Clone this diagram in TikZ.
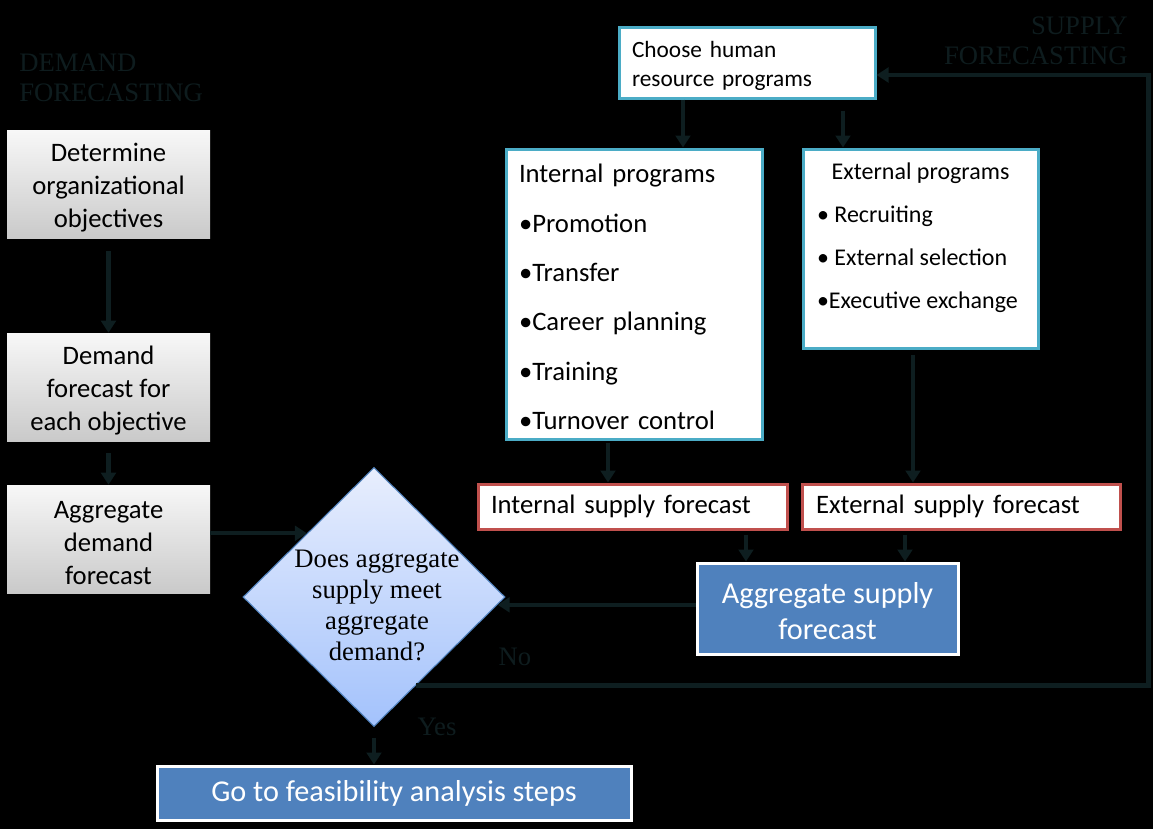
\documentclass[tikz,border=0pt]{standalone}
\usepackage{fontspec}
\setmainfont{Liberation Serif}
\newfontfamily\calfont{Carlito}
\usetikzlibrary{arrows.meta,shapes.geometric,calc}
\definecolor{arrc}{RGB}{14,30,32}
\definecolor{lblc}{RGB}{14,28,30}
\definecolor{tealb}{RGB}{75,172,198}
\definecolor{redb}{RGB}{192,80,77}
\definecolor{blueb}{RGB}{79,129,189}
\definecolor{dtop}{RGB}{232,238,253}
\definecolor{dbot}{RGB}{163,194,252}
\newcommand\tallstrut[1]{\rule{0pt}{#1}}
\begin{document}
\begin{tikzpicture}[x=0.75pt,y=-0.75pt,
  arr/.style={draw=arrc, line width=3.2pt, -{Triangle[width=11pt,length=9pt]}},
  graybox/.style={top color=gray!6, bottom color=gray!42, minimum width=152.25pt, minimum height=81pt, align=center, inner sep=0pt, font=\calfont\fontsize{20}{24.75}\selectfont},
  whbox/.style={draw=tealb, fill=white, line width=2.25pt, inner ysep=0pt},
  redbox/.style={draw=redb, fill=white, line width=2.25pt, inner ysep=0pt, font=\calfont\fontsize{20}{24}\selectfont},
  bluebox/.style={draw=white, fill=blueb, line width=2.25pt, text=white, inner sep=0pt, align=center},
  lbl/.style={text=lblc, font=\fontsize{20}{22.5}\selectfont, inner sep=0pt}
]
\fill[black] (0,0) rectangle (1153,829);
\useasboundingbox (0,0) rectangle (1153,829);

% demand side
\node[graybox] (d1) at (108.5,184.5) {\tallstrut{18.5pt}Determine\\organizational\\objectives};
\node[graybox] (d2) at (108.5,387) {\tallstrut{18.5pt}Demand\\forecast for\\each objective};
\node[graybox] (d3) at (108.5,539) {\tallstrut{18.5pt}Aggregate\\demand\\forecast};

% decision
\node[diamond, draw=blueb, line width=0.8pt, top color=dtop, bottom color=dbot, minimum width=196.5pt, minimum height=194.25pt, inner sep=0pt] (dec) at (374,597) {};
\node[font=\fontsize{20}{23.25}\selectfont, align=center, text=black, inner sep=0pt] (dtext) at (377,605) {Does aggregate\\supply meet\\aggregate\\demand?};

% labels
\node[lbl, align=left, anchor=west] (dl) at (19,78) {DEMAND\\FORECASTING};
\node[lbl, align=right, anchor=east] (sl) at (1128,41) {SUPPLY\\FORECASTING};
\node[lbl] (no) at (515,657) {No};
\node[lbl] (yes) at (437,727) {Yes};

% supply side
\node[whbox, text width=172.5pt, inner xsep=9.75pt, minimum height=53.25pt, align=left, font=\calfont\fontsize{17.5}{21.75}\selectfont] (choose) at (747,62.5) {\tallstrut{16.8pt}Choose human\\resource programs};
\node[whbox, text width=172.5pt, inner xsep=9.75pt, minimum height=217.5pt, align=left, font=\calfont\fontsize{20}{37}\selectfont] (intp) at (634,294) {\tallstrut{18.5pt}Internal programs\\•Promotion\\•Transfer\\•Career planning\\•Training\\•Turnover control};
\node[whbox, inner xsep=10.5pt, font=\calfont\fontsize{18}{32.25}\selectfont] (extp) at (920.5,248.5) {\begin{minipage}[c][149.25pt][t]{155.25pt}\parindent=0pt{\centering\tallstrut{23pt}External programs\par}\raggedright • Recruiting\par • External selection\par •Executive exchange\par\end{minipage}};
\node[redbox, text width=212.25pt, inner xsep=9.75pt, minimum height=33.75pt, align=left] (isf) at (632.5,506.5) {Internal supply forecast};
\node[redbox, text width=217.5pt, inner xsep=10.5pt, minimum height=33.75pt, align=left] (esf) at (961,506.5) {External supply forecast};
\node[bluebox, minimum width=195.75pt, minimum height=68.25pt, font=\calfont\fontsize{22.7}{27}\selectfont] (agg) at (827.5,608.5) {\tallstrut{19pt}Aggregate supply\\forecast};
\node[bluebox, minimum width=355.5pt, minimum height=40.5pt, font=\calfont\fontsize{22.7}{27}\selectfont] (go) at (394,793) {Go to feasibility analysis steps};

% connectors
\draw[arr, shorten <=9pt] (d1) -- (d2);
\draw[arr, shorten <=9pt] (d2) -- (d3);
\coordinate (p1) at ($(dec.west)!0.49!(dec.north)$);
\draw[arr] (d3.east |- p1) -- (p1);
\draw[arr] ($(choose.south)+(-64,0)$) coordinate (c1) -- (c1 |- intp.north);
\draw[arr] ($(choose.south)+(96,11)$) coordinate (c2) -- (c2 |- extp.north);
\draw[arr] ($(intp.south)+(-26,2)$) coordinate (c3) -- (c3 |- isf.north);
\draw[arr] ($(extp.south)+(-7.5,5)$) coordinate (c4) -- (c4 |- esf.north);
\draw[arr] ($(isf.south)+(113.5,4)$) coordinate (c5) -- (c5 |- agg.north);
\draw[arr] ($(esf.south)+(-56,4)$) coordinate (c6) -- (c6 |- agg.north);
\coordinate (p2) at ($(dec.east)!0.06!(dec.south)$);
\draw[arr] (agg.west |- p2) -- (p2);
\coordinate (p3) at ($(dec.east)!0.68!(dec.south)$);
\coordinate (rt) at ($(esf.east)+(27,0)$);
\draw[arr] (p3) -- (p3 -| rt) |- ($(choose.east)+(0,12.5)$);
\draw[arr, shorten <=8pt] (dec.south) -- (dec.south |- go.north);
\end{tikzpicture}
\end{document}
